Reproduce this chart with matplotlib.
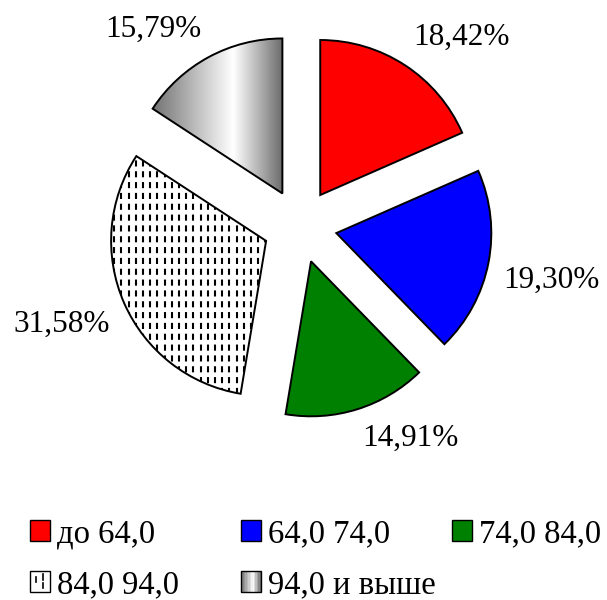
import numpy as np
import matplotlib
matplotlib.use("Agg")
import matplotlib.pyplot as plt
from matplotlib.patches import Rectangle, Patch
from matplotlib.lines import Line2D
from matplotlib.legend_handler import HandlerBase

plt.rcParams['font.family'] = ['Liberation Serif', 'DejaVu Serif']

categories = ['до 64,0', '64,0 74,0', '74,0 84,0', '84,0 94,0', '94,0 и выше']
shares = [18.42, 19.30, 14.91, 31.58, 15.79]
colors = ['#ff0000', '#0000ff', '#008000', 'white', 'white']

fig = plt.figure(figsize=(6.07, 6.0), dpi=100)
ax = fig.add_axes([0, 0, 1, 1])

labels = [f"{v:.2f}".replace('.', ',') + '%' for v in shares]
wedges, texts = ax.pie(shares, explode=[37] * len(shares), radius=155,
                       startangle=90, counterclock=False, colors=colors,
                       labels=labels, labeldistance=1.1,
                       wedgeprops=dict(edgecolor='black', linewidth=1.4),
                       textprops=dict(fontsize=22.5))

# anchor each label by the corner nearest to its slice
for t in texts:
    x, y = t.get_position()
    t.set_verticalalignment('bottom' if y > 0 else 'top')

ax.set_aspect('equal')
ax.axis('off')
inv = ax.transData.inverted()

# dashed vertical pattern on the 4th wedge
dot = wedges[3]
bb = dot.get_path().get_extents(dot.get_transform())
(x0, y0), (x1, y1) = inv.transform([[bb.x0, bb.y0], [bb.x1, bb.y1]])
lw = 1.5
for xv in np.arange(x0 + 3, x1, 7.2):
    ln, = ax.plot([xv, xv], [y0, y1], color='black', lw=lw,
                  linestyle=(0, (4.4 / lw, 3.4 / lw)), zorder=3)
    ln.set_clip_path(dot)

# horizontal grey gradient on the last wedge
gw = wedges[4]
bb = gw.get_path().get_extents(gw.get_transform())
(gx0, gy0), (gx1, gy1) = inv.transform([[bb.x0, bb.y0], [bb.x1, bb.y1]])
t = np.linspace(0, 1, 256)
shade = np.interp(t, [0, 0.62, 1], [0.45, 1.0, 0.42])
img = np.tile(shade, (2, 1))
im = ax.imshow(img, cmap='gray', vmin=0, vmax=1, extent=[gx0, gx1, gy0, gy1],
               aspect='auto', zorder=1.5, interpolation='bilinear')
im.set_clip_path(gw)
gw.set_zorder(2)
gw.set_facecolor('none')

ax.set_xlim(-300, 307)
ax.set_ylim(-374, 226)


class GradientHandler(HandlerBase):
    def create_artists(self, legend, orig_handle, xdescent, ydescent,
                       width, height, fontsize, trans):
        arts = []
        n = 14
        s = np.interp(np.linspace(0, 1, n), [0, 0.6, 1], [0.45, 1.0, 0.42])
        for i in range(n):
            arts.append(Rectangle((-xdescent + i * width / n, -ydescent),
                                  width / n, height, facecolor=str(s[i]),
                                  edgecolor='none', transform=trans))
        arts.append(Rectangle((-xdescent, -ydescent), width, height,
                              facecolor='none', edgecolor='black', lw=1.0,
                              transform=trans))
        return arts


class DashHandler(HandlerBase):
    def create_artists(self, legend, orig_handle, xdescent, ydescent,
                       width, height, fontsize, trans):
        x, y = -xdescent, -ydescent
        arts = [Rectangle((x, y), width, height, facecolor='white',
                          edgecolor='black', lw=1.0, transform=trans)]
        for fx, fy in [(0.3, 0.62), (0.62, 0.32), (0.62, 0.72)]:
            arts.append(Line2D([x + fx * width] * 2,
                               [y + (fy - 0.13) * height, y + (fy + 0.13) * height],
                               color='black', lw=1.2, transform=trans))
        return arts


handles = [Patch(facecolor=c, edgecolor='black', lw=1.0) for c in colors[:3]]
handles += [Patch(), Patch()]
hmap = {handles[3]: DashHandler(), handles[4]: GradientHandler()}

for i, (h, lab) in enumerate(zip(handles, categories)):
    col, row = i % 3, i // 3
    xp = (30 + col * 211) / 607
    yp = 1 - (534 + row * 51) / 600
    fig.legend([h], [lab], loc='center left', bbox_to_anchor=(xp, yp),
               frameon=False, borderpad=0, borderaxespad=0,
               handlelength=0.62, handleheight=0.6, handletextpad=0.2,
               fontsize=23.5, handler_map=hmap)

fig.savefig('out.png', dpi=100, facecolor='white')
